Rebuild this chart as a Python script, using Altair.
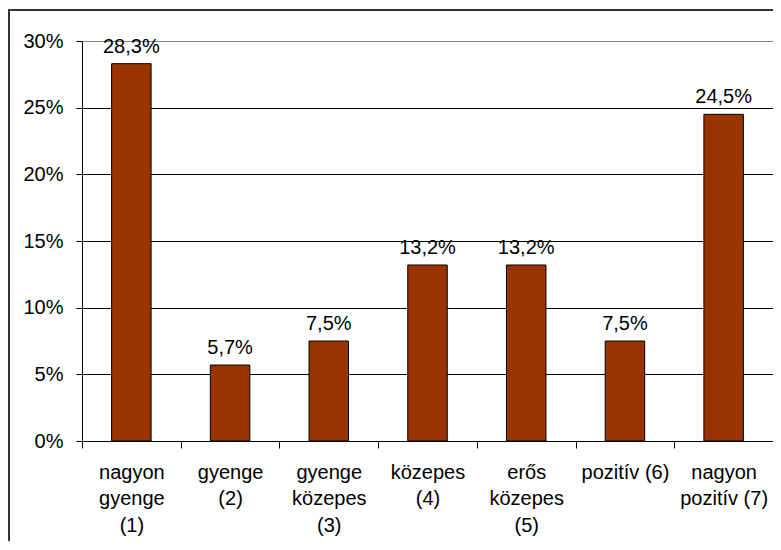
import altair as alt
import pandas as pd

categories = ["nagyon|gyenge|(1)", "gyenge|(2)", "gyenge|közepes|(3)", "közepes|(4)",
              "erős|közepes|(5)", "pozitív (6)", "nagyon|pozitív (7)"]
values = [28.3, 5.7, 7.5, 13.2, 13.2, 7.5, 24.5]
y_ticks = [0, 0.05, 0.10, 0.15, 0.20, 0.25, 0.30]

df = pd.DataFrame({"cat": categories, "pct": values})
df["share"] = df["pct"] / 100.0

FONT = "Liberation Sans"
FS = 20

base = alt.Chart(df).transform_calculate(
    lbl="replace(format(datum.pct, '.1f'), '.', ',') + '%'"
)

x = alt.X("cat:N", sort=categories, title=None,
          scale=alt.Scale(paddingInner=0, paddingOuter=0),
          axis=alt.Axis(labelAngle=0, tickBand="extent", tickSize=7, labelPadding=14,
                        labelExpr="split(datum.label, '|')", labelLineHeight=26.7,
                        labelFont=FONT, labelFontSize=FS, labelColor="black",
                        domainColor="black", tickColor="black", labelAlign="center",
                        labelBaseline="top"))
y = alt.Y("share:Q", title=None,
          scale=alt.Scale(domain=[0, 0.30], nice=False),
          axis=alt.Axis(values=y_ticks, format=".0%", tickSize=6, labelPadding=13,
                        labelFont=FONT, labelFontSize=FS, labelColor="black",
                        domainColor="black", tickColor="black", grid=True,
                        gridColor=alt.condition("datum.value >= 0.3", alt.value("#888888"), alt.value("black")),
                        gridWidth=1))

bars = base.mark_bar(color="#993300", stroke="black", strokeWidth=1,
                     width={"band": 0.4}).encode(x=x, y=y)

labels = base.mark_text(font=FONT, fontSize=FS, color="black", baseline="alphabetic",
                        dy=-11).encode(x=alt.X("cat:N", sort=categories), y="share:Q", text="lbl:N")

frame = alt.Chart(df).mark_rect(fill=None, stroke="#333333", strokeWidth=2).encode(
    x=alt.value(-73), x2=alt.value(720), y=alt.value(-31), y2=alt.value(560))

chart = alt.layer(frame, bars, labels).properties(
    width=691, height=400,
    autosize=alt.AutoSizeParams(type="none"),
    padding={"left": 74, "top": 33, "right": 0, "bottom": 100},
    background="white",
).configure_view(stroke="#888888", strokeWidth=1)

chart.save("out.html", embed_options={"renderer": "svg", "actions": False})
